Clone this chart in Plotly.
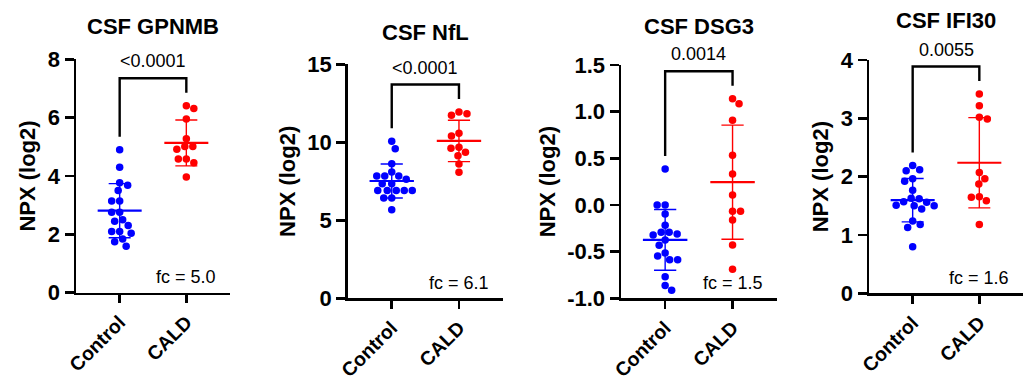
import numpy as np
import plotly.graph_objects as go

W, H = 1028, 380
FONT = "Liberation Sans, Arial, sans-serif"

# ---------------- data ----------------
categories = ["Control", "CALD"]
titles = ["CSF GPNMB", "CSF NfL", "CSF DSG3", "CSF IFI30"]
p_values = ["<0.0001", "<0.0001", "0.0014", "0.0055"]
fold_changes = ["5.0", "6.1", "1.5", "1.6"]

gpnmb_control = [4.90, 4.30, 3.77, 3.68, 3.50, 3.14, 3.14, 2.76, 2.76, 2.50,
                 2.45, 2.30, 2.10, 2.10, 2.04, 1.84, 1.75, 1.59]
gpnmb_cald = [6.41, 6.31, 5.95, 5.28, 5.01, 4.92, 5.01, 4.58, 4.58, 4.45, 3.97]

nfl_control = [10.06, 9.59, 8.63, 8.10, 7.84, 7.84, 7.84, 7.63, 7.35, 7.35,
               6.91, 6.91, 6.91, 6.91, 6.91, 6.43, 6.43, 5.68]
nfl_cald = [11.94, 11.73, 11.83, 10.40, 10.58, 9.36, 9.62, 9.68, 9.14, 8.61, 8.08]

dsg3_control = [0.386, 0.00, 0.00, -0.096, -0.218, -0.311, -0.321, -0.293, -0.293,
                -0.375, -0.432, -0.514, -0.546, -0.586, -0.586, -0.768, -0.864, -0.914]
dsg3_cald = [1.085, 1.139, 0.907, 0.532, 0.332, 0.107, -0.068, -0.068, -0.161,
             -0.429, -0.689]

ifi30_control = [2.19, 2.12, 2.10, 1.965, 1.92, 1.765, 1.57, 1.63, 1.62, 1.56,
                 1.50, 1.445, 1.50, 1.51, 1.24, 1.18, 1.13, 0.80]
ifi30_cald = [3.417, 3.216, 2.99, 3.02, 2.07, 1.965, 1.874, 1.656, 1.646, 1.588, 1.18]

panels_control = [gpnmb_control, nfl_control, dsg3_control, ifi30_control]
panels_cald = [gpnmb_cald, nfl_cald, dsg3_cald, ifi30_cald]

# axis settings
y_ranges = [(0, 8), (0, 15), (-1.0, 1.5), (0, 4)]
y_dticks = [2, 5, 0.5, 1]
y_decimals = [0, 0, 1, 0]

# ---------------- layout geometry (pixels) ----------------
boxes = [(76, 230, 59.3, 292.7), (347.7, 503, 64.3, 298.3),
         (621, 776.7, 65, 298.3), (869, 1023, 60, 293.3)]
title_y_px = [26.7, 32.3, 26.7, 20.7]
X_RANGE = (-0.655, 1.655)
COLORS = ["#0000FF", "#FF0000"]
DOT = 7.5
MEAN_HALF = 0.33
CAP_HALF = 0.165


def swarm(values, ppy, D=8.0, step=0.5, lim=40):
    vals = np.asarray(values, float)
    order = np.argsort(-vals, kind="stable")
    cands = np.arange(-lim, lim + step / 2, step)
    cands = sorted(cands, key=lambda c: (abs(c), c))
    placed = []
    offs = np.zeros(len(vals))
    for k, i in enumerate(order):
        y = vals[i] * ppy
        pref = cands if k % 2 == 0 else sorted(cands, key=lambda c: (abs(c), -c))
        chosen = 0.0
        for c in pref:
            if all((c - px) ** 2 + (y - py) ** 2 >= D * D for px, py in placed):
                chosen = c
                break
        placed.append((chosen, y))
        offs[i] = chosen
    return offs


fig = go.Figure()
annotations = []
layout = {}

for p in range(4):
    n = p + 1
    xs = "x" if n == 1 else f"x{n}"
    ys = "y" if n == 1 else f"y{n}"
    x0, x1, yt, yb = boxes[p]
    r0, r1 = y_ranges[p]
    ppy = (yb - yt) / (r1 - r0)
    ppx = (x1 - x0) / (X_RANGE[1] - X_RANGE[0])

    groups = [panels_control[p], panels_cald[p]]
    for g, vals in enumerate(groups):
        vals = np.asarray(vals, float)
        offs = swarm(vals, ppy)
        m = float(np.mean(vals))
        sd = float(np.std(vals, ddof=1))
        col = COLORS[g]
        # SD error bar
        fig.add_trace(go.Scatter(
            x=[g, g, None, g - CAP_HALF, g + CAP_HALF, None, g - CAP_HALF, g + CAP_HALF],
            y=[m - sd, m + sd, None, m + sd, m + sd, None, m - sd, m - sd],
            mode="lines", line=dict(color=col, width=1.4),
            xaxis=xs, yaxis=ys, showlegend=False, hoverinfo="skip"))
        # points
        fig.add_trace(go.Scatter(
            x=g + offs / ppx, y=vals, mode="markers",
            marker=dict(color=col, size=DOT, line=dict(width=0)),
            xaxis=xs, yaxis=ys, showlegend=False, cliponaxis=False))
        # mean line
        fig.add_trace(go.Scatter(
            x=[g - MEAN_HALF, g + MEAN_HALF], y=[m, m], mode="lines",
            line=dict(color=col, width=2.2),
            xaxis=xs, yaxis=ys, showlegend=False, hoverinfo="skip"))

    # significance bracket
    mc = max(groups[0])
    mk = max(groups[1])
    leg = 13.0 / ppy
    top = max(mc, mk) + (13.0 + 14.5) / ppy
    fig.add_trace(go.Scatter(
        x=[0, 0, 1, 1], y=[mc + leg, top, top, mk + leg], mode="lines",
        line=dict(color="black", width=2.4),
        xaxis=xs, yaxis=ys, showlegend=False, hoverinfo="skip"))
    # p-value label: converted from data position to paper coordinates
    top_px = yb - (top - r0) * ppy
    mid_px = x0 + (0.5 - X_RANGE[0]) * ppx
    annotations.append(dict(
        x=mid_px / W, y=1 - (top_px - 17.0) / H, xref="paper", yref="paper",
        text=p_values[p], showarrow=False, xanchor="center", yanchor="middle",
        font=dict(family=FONT, size=18, color="black")))
    annotations.append(dict(
        x=(x1 - 12) / W, y=1 - (yb - 15.5) / H, xref="paper", yref="paper",
        text=f"fc = {fold_changes[p]}", showarrow=False,
        xanchor="right", yanchor="middle",
        font=dict(family=FONT, size=18, color="black")))
    annotations.append(dict(
        x=(x0 + x1) / 2 / W, y=1 - title_y_px[p] / H, xref="paper", yref="paper",
        text=titles[p], showarrow=False, xanchor="center", yanchor="middle",
        font=dict(family=FONT, size=22, color="black", weight="bold")))

    tv = list(np.round(np.arange(r0, r1 + y_dticks[p] / 2, y_dticks[p]), 6))
    tt = [f"{v:.{y_decimals[p]}f}" for v in tv]

    kx = "xaxis" if n == 1 else f"xaxis{n}"
    ky = "yaxis" if n == 1 else f"yaxis{n}"
    layout[kx] = dict(
        domain=[x0 / W, x1 / W], anchor=ys, range=list(X_RANGE),
        tickmode="array", tickvals=[0, 1], ticktext=categories, tickangle=-45,
        showline=True, linecolor="black", linewidth=2.5, ticks="outside",
        ticklen=8, tickwidth=2.5, tickcolor="black", showgrid=False,
        zeroline=False, fixedrange=True, automargin=False,
        tickfont=dict(family=FONT, size=19.5, color="black", weight="bold"))
    layout[ky] = dict(
        domain=[1 - yb / H, 1 - yt / H], anchor=xs, range=[r0, r1],
        tickmode="array", tickvals=tv, ticktext=tt,
        showline=True, linecolor="black", linewidth=2.5, ticks="outside",
        ticklen=9, tickwidth=2.5, tickcolor="black", showgrid=False,
        zeroline=False, fixedrange=True, automargin=False,
        tickfont=dict(family=FONT, size=22, color="black", weight="bold"),
        title=dict(text="NPX (log2)", standoff=6,
                   font=dict(family=FONT, size=22, color="black", weight="bold")))

fig.update_layout(
    width=W, height=H, margin=dict(l=0, r=0, t=0, b=0),
    paper_bgcolor="white", plot_bgcolor="white",
    annotations=annotations, showlegend=False, **layout)

fig.write_html("out.html",
               config={"displayModeBar": False, "staticPlot": True},
               post_script="document.body.style.margin='0';"
                           "document.body.style.overflow='hidden';")
